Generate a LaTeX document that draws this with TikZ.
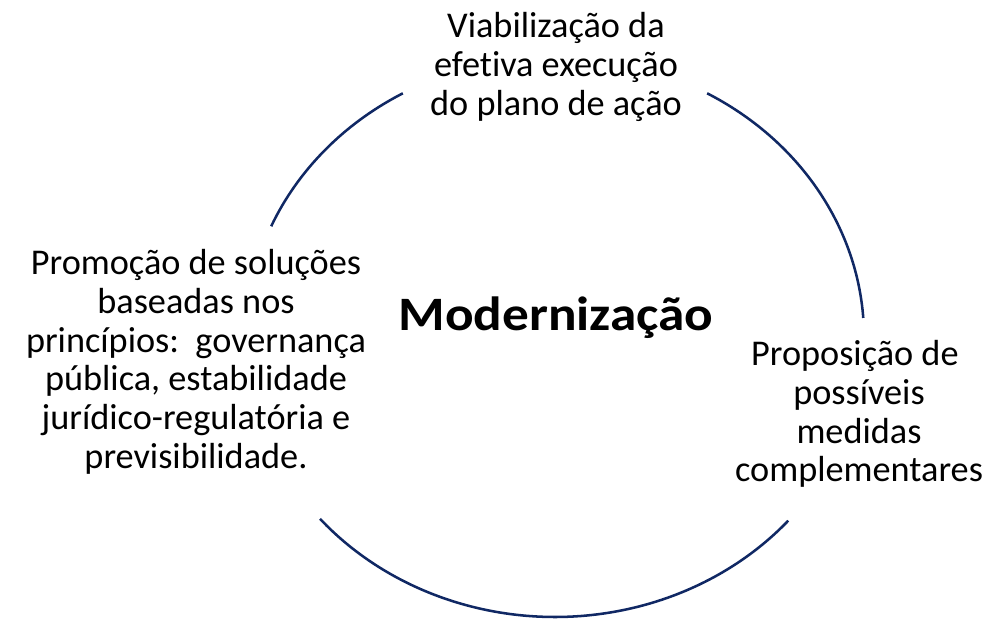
\documentclass[tikz,border=0pt]{standalone}
\usepackage{fontspec}
\usepackage{graphicx}
\setmainfont{Carlito}[Ligatures=NoCommon]
\definecolor{arcblue}{RGB}{16,40,100}
\tikzset{
  ring/.style={draw=arcblue, line width=1.9pt},
  label/.style={anchor=base, inner sep=0pt, font=\fontsize{27.2}{29.1}\selectfont},
  hub/.style={anchor=base, inner sep=0pt, font=\fontsize{36}{42}\selectfont\bfseries}
}
\newcommand{\lines}[1]{\begin{tabular}[t]{@{}c@{}}#1\end{tabular}}
\begin{document}
\begin{tikzpicture}[x=0.75pt, y=0.75pt]
\useasboundingbox (0,0) rectangle (1002,618);
\coordinate (c) at (555,281);
\draw[ring] (c) ++(119.5:231.75pt and 210pt) arc[start angle=119.5, end angle=156.7, x radius=231.75pt, y radius=210pt];
\draw[ring] (c) ++(3.9:231.75pt and 210pt) arc[start angle=3.9, end angle=60.5, x radius=231.75pt, y radius=210pt];
\draw[ring] (c) ++(220.5:231.75pt and 210pt) arc[start angle=220.5, end angle=319, x radius=231.75pt, y radius=210pt];
\node[label] (top) at (556,580) {\lines{Viabilização da\\efetiva execução\\do plano de ação}};
\node[label] (left) at (196,343.5) {\lines{Promoção de soluções\\baseadas nos\\princípios:\ \ governança\\pública, estabilidade\\jurídico-regulatória e\\previsibilidade.}};
\node[label] (right) at (859,252.5) {\lines{Proposição de\hphantom{\ }\\possíveis\\medidas\\complementares}};
\node[hub] (mid) at (556,287) {\scalebox{1.11}[1]{Modernização}};
\end{tikzpicture}
\end{document}
